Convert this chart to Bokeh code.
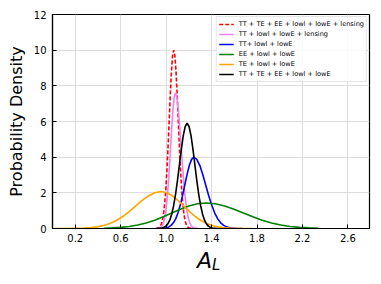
from bokeh.plotting import figure
from bokeh.models import Range1d, FixedTicker, Legend, LegendItem, Div
from bokeh.layouts import column
from bokeh.embed import file_html
from bokeh.resources import INLINE

# ---------------- data ----------------
x_ticks = [0.2, 0.6, 1.0, 1.4, 1.8, 2.2, 2.6]
x_tick_labels = ["0.2", "0.6", "1.0", "1.4", "1.8", "2.2", "2.6"]
y_ticks = [0, 2, 4, 6, 8, 10, 12]
y_tick_labels = ["0", "2", "4", "6", "8", "10", "12"]

labels = [
    "TT + TE + EE + lowl + lowE + lensing",
    "TT + lowl + lowE + lensing",
    "TT+ lowl + lowE",
    "EE + lowl + lowE",
    "TE + lowl + lowE",
    "TT + TE + EE + lowl + lowE",
]
colors = ["red", "violet", "blue", "green", "orange", "black"]
dashes = ["4 2", "solid", "solid", "solid", "solid", "solid"]

red_x = [0.907, 0.917, 0.927, 0.937, 0.947, 0.957, 0.967, 0.977, 0.987, 0.997, 1.007,
         1.017, 1.027, 1.037, 1.047, 1.057, 1.067, 1.077, 1.087, 1.097, 1.107, 1.117,
         1.127, 1.137, 1.147, 1.157, 1.167, 1.177, 1.187, 1.197, 1.207, 1.217, 1.227]
red_y = [0.003, 0.009, 0.022, 0.051, 0.111, 0.228, 0.439, 0.796, 1.353, 2.163, 3.247,
         4.578, 6.065, 7.548, 8.825, 9.692, 10.0, 9.692, 8.825, 7.548, 6.065, 4.578,
         3.247, 2.163, 1.353, 0.796, 0.439, 0.228, 0.111, 0.051, 0.022, 0.009, 0.003]

pink_x = [0.914, 0.9245, 0.935, 0.9455, 0.956, 0.9665, 0.977, 0.9875, 0.998, 1.0085,
          1.019, 1.0295, 1.040, 1.0505, 1.061, 1.0715, 1.082, 1.0945, 1.107, 1.1195,
          1.132, 1.1445, 1.157, 1.1695, 1.182, 1.1945, 1.207, 1.2195, 1.232, 1.2445,
          1.257, 1.2695, 1.282]
pink_y = [0.003, 0.007, 0.017, 0.039, 0.084, 0.173, 0.334, 0.605, 1.029, 1.644, 2.467,
          3.480, 4.610, 5.737, 6.707, 7.366, 7.6, 7.366, 6.707, 5.737, 4.610, 3.480,
          2.467, 1.644, 1.029, 0.605, 0.334, 0.173, 0.084, 0.039, 0.017, 0.007, 0.003]

blue_x = [0.924, 0.944, 0.964, 0.984, 1.004, 1.024, 1.044, 1.064, 1.084, 1.104, 1.124,
          1.144, 1.164, 1.184, 1.204, 1.224, 1.244, 1.270, 1.297, 1.323, 1.349, 1.375,
          1.402, 1.428, 1.454, 1.480, 1.507, 1.533, 1.559, 1.585, 1.612, 1.638, 1.664]
blue_y = [0.001, 0.004, 0.009, 0.020, 0.044, 0.091, 0.176, 0.318, 0.541, 0.865, 1.299,
          1.831, 2.426, 3.019, 3.530, 3.877, 4.0, 3.877, 3.530, 3.019, 2.426, 1.831,
          1.299, 0.865, 0.541, 0.318, 0.176, 0.091, 0.044, 0.020, 0.009, 0.004, 0.001]

green_x = [0.450, 0.525, 0.600, 0.675, 0.750, 0.825, 0.900, 0.975, 1.050, 1.125, 1.200,
           1.275, 1.350, 1.433, 1.515, 1.598, 1.680, 1.763, 1.845, 1.928, 2.010, 2.093,
           2.175, 2.258, 2.340]
green_y = [0.016, 0.033, 0.063, 0.114, 0.194, 0.309, 0.464, 0.655, 0.867, 1.079, 1.262,
           1.386, 1.43, 1.386, 1.262, 1.079, 0.867, 0.655, 0.464, 0.309, 0.194, 0.114,
           0.063, 0.033, 0.016]

orange_x = [0.0, 0.056, 0.112, 0.169, 0.225, 0.281, 0.337, 0.394, 0.450, 0.506, 0.562,
            0.619, 0.675, 0.731, 0.787, 0.844, 0.900, 0.956, 1.006, 1.056, 1.106, 1.156,
            1.206, 1.256, 1.306, 1.356, 1.406, 1.456, 1.506, 1.556, 1.606, 1.656, 1.706,
            1.756]
orange_y = [0.0, 0.001, 0.002, 0.005, 0.011, 0.023, 0.047, 0.091, 0.165, 0.280, 0.448,
            0.672, 0.948, 1.256, 1.563, 1.827, 2.006, 2.07, 2.006, 1.827, 1.563, 1.256,
            0.948, 0.672, 0.448, 0.280, 0.165, 0.091, 0.047, 0.023, 0.011, 0.005, 0.002,
            0.001]

black_x = [0.913, 0.930, 0.947, 0.964, 0.981, 0.998, 1.015, 1.032, 1.049, 1.066, 1.083,
           1.100, 1.117, 1.134, 1.151, 1.168, 1.185, 1.202, 1.219, 1.236, 1.253, 1.270,
           1.287, 1.304, 1.321, 1.338, 1.355, 1.372, 1.389, 1.406, 1.423, 1.440, 1.457]
black_y = [0.002, 0.005, 0.013, 0.030, 0.066, 0.134, 0.259, 0.469, 0.798, 1.276, 1.915,
           2.701, 3.579, 4.454, 5.207, 5.718, 5.9, 5.718, 5.207, 4.454, 3.579, 2.701,
           1.915, 1.276, 0.798, 0.469, 0.259, 0.134, 0.066, 0.030, 0.013, 0.005, 0.002]

series_x = [red_x, pink_x, blue_x, green_x, orange_x, black_x]
series_y = [red_y, pink_y, blue_y, green_y, orange_y, black_y]

x_label_main = "A"
x_label_sub = "L"

FONT = "DejaVu Sans"

# ---------------- figure ----------------
p = figure(width=371, height=248,
           x_range=Range1d(0, 2.79), y_range=Range1d(0, 12),
           output_backend="svg", toolbar_location=None,
           min_border_left=52, min_border_right=2,
           min_border_top=14, min_border_bottom=20, margin=0)
p.background_fill_color = "white"
p.border_fill_color = "white"
p.outline_line_color = "black"
p.outline_line_width = 1.2

for ax, ticks, tl in ((p.xaxis, x_ticks, x_tick_labels), (p.yaxis, y_ticks, y_tick_labels)):
    ax.ticker = FixedTicker(ticks=ticks)
    ax.major_label_overrides = {t: l for t, l in zip(ticks, tl)}
    ax.major_tick_in = 4
    ax.major_tick_out = 0
    ax.minor_tick_line_color = None
    ax.axis_line_color = "black"
    ax.axis_line_width = 1.2
    ax.major_tick_line_color = "black"
    ax.major_label_text_font = FONT
    ax.major_label_text_font_size = "10px"
    ax.major_label_text_color = "black"

p.xaxis.major_label_standoff = 5
p.yaxis.major_label_standoff = 6
p.yaxis.axis_label = "Probability Density"
p.yaxis.axis_label_text_font = FONT
p.yaxis.axis_label_text_font_size = "16px"
p.yaxis.axis_label_text_font_style = "normal"
p.yaxis.axis_label_text_color = "black"
p.yaxis.axis_label_standoff = 5

p.grid.grid_line_color = "#dddddd"
p.grid.grid_line_width = 1

items = []
for xs, ys, c, d, lab in zip(series_x, series_y, colors, dashes, labels):
    r = p.line(xs, ys, line_color=c, line_width=1.6, line_dash=d)
    items.append(LegendItem(label=lab, renderers=[r]))

legend = Legend(items=items, location="top_right")
legend.margin = 2
legend.padding = 2
legend.spacing = 0
legend.glyph_width = 15
legend.glyph_height = 10
legend.label_height = 10
legend.label_standoff = 5
legend.label_text_font = FONT
legend.label_text_font_size = "6.6px"
legend.label_text_color = "black"
legend.border_line_color = "#cccccc"
legend.border_line_width = 1
legend.background_fill_color = "white"
legend.background_fill_alpha = 0.85
p.add_layout(legend)

# x axis label A_L (italic A with subscript L) as real HTML text below the plot
xlabel = Div(
    text=(f'<div style="padding-left:197px; padding-top:2px; font-family:\'DejaVu Sans\'; '
          f'font-size:22px; line-height:22px; font-style:italic; color:black; white-space:nowrap">'
          f'{x_label_main}<span style="font-size:15px; vertical-align:-2px">{x_label_sub}</span></div>'),
    width=371, height=30, margin=0)

layout = column(p, xlabel, spacing=0)

open("out.html", "w").write(file_html(layout, INLINE))
